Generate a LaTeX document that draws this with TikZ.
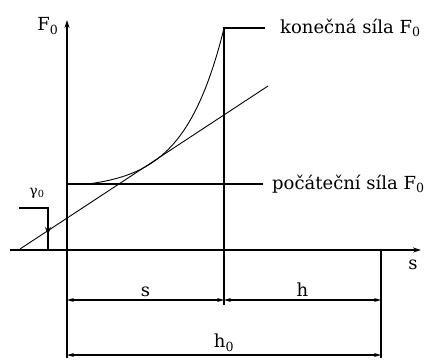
\documentclass[tikz,border=0pt]{standalone}
\usepackage{fontspec}
\setmainfont{DejaVu Serif}
\usetikzlibrary{arrows.meta}

\begin{document}
\begin{tikzpicture}[x=1pt, y=-1pt,
        line/.style={line width=1.1pt},
        thinline/.style={line width=0.9pt},
        dim/.style={line width=1.1pt, {Stealth[length=7pt,width=4pt]}-{Stealth[length=7pt,width=4pt]}},
        lbl/.style={font=\fontsize{18}{20}\selectfont, inner sep=1pt},
      ]
        \useasboundingbox (0,0) rectangle (438,359);

        % axes
        \coordinate (ybot) at (67,358);
        \coordinate (ytop) at (67,20);
        \coordinate (xl) at (10,250);
        \coordinate (xr) at (421,250);
        \draw[line, -{Stealth[length=8pt,width=5pt]}] (ybot) -- (ytop);
        \draw[line, -{Stealth[length=8pt,width=5pt]}] (xl) -- (xr);
        \node[lbl] (Flbl) at (48,26) {F\textsubscript{0}};
        \node[lbl] (slbl) at (413,265) {s};

        % force curve and tangent
        \draw[thinline] plot[domain=88:224, samples=80]
              (\x, {184-5.38*(exp(0.025*(\x-88))-1)});
        \coordinate (t1) at (20,249);
        \coordinate (t2) at (268,86);
        \draw[thinline] (t1) -- (t2);

        % final force
        \coordinate (kbot) at (224,305);
        \coordinate (ktop) at (224,28);
        \coordinate (kend) at (265,28);
        \draw[line] (kbot) -- (ktop) -- (kend);
        \node[lbl, anchor=west] (konec) at (279,28) {konečná síla F\textsubscript{0}};

        % initial force
        \coordinate (p1) at (67,184);
        \coordinate (p2) at (263,184);
        \draw[line] (p1) -- (p2);
        \node[lbl, anchor=west] (pocat) at (271,184) {počáteční síla F\textsubscript{0}};

        % angle mark
        \coordinate (g1) at (19,208);
        \coordinate (g2) at (48,250);
        \coordinate (ga) at (48,220);
        \coordinate (gb) at (48,235);
        \draw[line] (g1) -| (g2);
        \draw[line, -{Stealth[length=8pt,width=6pt]}] (ga) -- (gb);
        \node[lbl, font=\fontsize{14}{16}\selectfont, inner sep=0pt] (glbl) at (37,193) {γ\textsubscript{0}};

        % dimensions
        \coordinate (rbot) at (381,358);
        \coordinate (rtop) at (381,250);
        \draw[line] (rtop) -- (rbot);
        \coordinate (d1) at (67,300);
        \coordinate (d2) at (224,300);
        \coordinate (d3) at (381,300);
        \coordinate (e1) at (67,355);
        \coordinate (e2) at (381,355);
        \draw[dim] (d1) -- (d2) node[lbl, midway, above=2pt] (sdim) {s};
        \draw[dim] (d2) -- (d3) node[lbl, midway, above=2pt] (hdim) {h};
        \draw[dim] (e1) -- (e2) node[lbl, midway, above=2pt] (h0dim) {h\textsubscript{0}};
      \end{tikzpicture}
\end{document}
